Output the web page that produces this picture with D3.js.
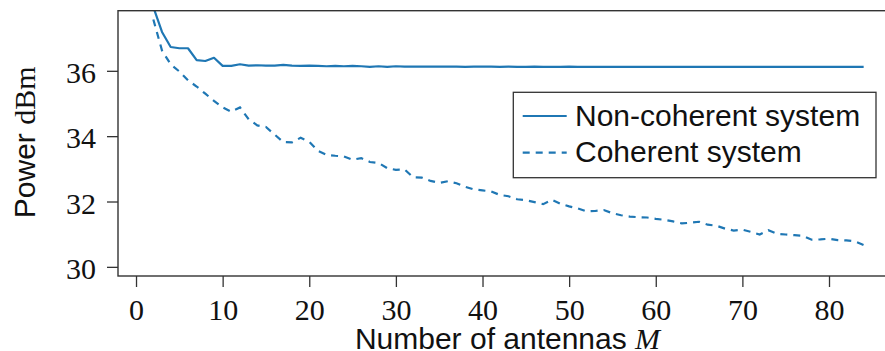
<!DOCTYPE html>
<html><head><meta charset="utf-8">
<script src="https://cdn.jsdelivr.net/npm/d3@7"></script>
<style>body{margin:0;background:#fff}svg{display:block}</style>
</head><body><svg id="c" width="885" height="351"></svg>
<script>
const antennas = d3.range(2, 85);
const nonCoherent = [37.95,37.19,36.73,36.69,36.69,36.33,36.30,36.40,36.15,36.15,36.20,36.16,36.17,36.16,36.16,36.18,36.16,36.15,36.16,36.15,36.14,36.15,36.14,36.15,36.14,36.12,36.14,36.12,36.14,36.13,36.13,36.13,36.13,36.13,36.13,36.13,36.12,36.13,36.13,36.13,36.12,36.13,36.12,36.12,36.13,36.12,36.12,36.12,36.13,36.12,36.12,36.12,36.12,36.12,36.12,36.12,36.12,36.12,36.12,36.12,36.12,36.12,36.12,36.12,36.12,36.12,36.12,36.12,36.12,36.12,36.12,36.12,36.12,36.12,36.12,36.12,36.12,36.12,36.12,36.12,36.12,36.12,36.12];
const coherent = [37.57,36.62,36.20,35.98,35.71,35.52,35.30,35.08,34.88,34.75,34.88,34.52,34.33,34.28,34.05,33.82,33.81,33.95,33.83,33.55,33.43,33.40,33.38,33.28,33.33,33.21,33.18,33.02,32.97,32.98,32.74,32.73,32.63,32.57,32.62,32.56,32.45,32.37,32.34,32.31,32.20,32.16,32.07,32.04,31.98,31.92,32.05,31.93,31.85,31.79,31.70,31.71,31.74,31.64,31.58,31.54,31.52,31.51,31.47,31.44,31.39,31.33,31.35,31.38,31.29,31.26,31.17,31.11,31.14,31.07,30.99,31.12,31.01,30.99,30.97,30.95,30.83,30.84,30.86,30.82,30.81,30.78,30.67];
const xTicks = [0,10,20,30,40,50,60,70,80];
const yTicks = [30,32,34,36];
const seriesNames = ["Non-coherent system","Coherent system"];

const svg = d3.select("#c");
const L=118, R=899, T=10.7, B=276;
const x = d3.scaleLinear().domain([-2.08, 88.08]).range([L, R]);
const y = d3.scaleLinear().domain([29.72, 37.84]).range([B, T]);
const color = "#1f77b4", axc = "#333";

svg.append("clipPath").attr("id","clip").append("rect").attr("x",L).attr("y",T).attr("width",R-L).attr("height",B-T);

const line = d3.line().x((d,i)=>x(antennas[i])).y(d=>y(d));
const g = svg.append("g").attr("clip-path","url(#clip)");
g.append("path").datum(nonCoherent).attr("d",line).attr("fill","none").attr("stroke",color).attr("stroke-width",2.2).attr("stroke-linejoin","round");
g.append("path").datum(coherent).attr("d",line).attr("fill","none").attr("stroke",color).attr("stroke-width",2.2).attr("stroke-dasharray","7,6");

// spines
svg.append("rect").attr("x",L).attr("y",T).attr("width",R-L).attr("height",B-T).attr("fill","none").attr("stroke",axc).attr("stroke-width",1.4);

// x axis
const xa = svg.append("g").attr("transform",`translate(0,${B})`).call(d3.axisBottom(x).tickValues(xTicks).tickSize(11).tickSizeOuter(0).tickFormat(d3.format("d")));
xa.select(".domain").remove();
xa.selectAll("line").attr("stroke",axc).attr("stroke-width",1.3);
xa.selectAll("text").attr("font-family","'Liberation Serif', serif").attr("font-size",30).attr("fill","#111").attr("dy",null).attr("y",44);

// y axis
const ya = svg.append("g").attr("transform",`translate(${L},0)`).call(d3.axisLeft(y).tickValues(yTicks).tickSize(11).tickSizeOuter(0).tickFormat(d3.format("d")));
ya.select(".domain").remove();
ya.selectAll("line").attr("stroke",axc).attr("stroke-width",1.3);
ya.selectAll("text").attr("font-family","'Liberation Serif', serif").attr("font-size",30).attr("fill","#111").attr("dy",null).attr("y",11.5).attr("x",-22);

// axis labels
const xl = svg.append("text").attr("x",(L+R)/2 - 1).attr("y",349).attr("text-anchor","middle").attr("font-size",30).attr("fill","#111");
xl.append("tspan").attr("font-family","'Liberation Sans', Arial, sans-serif").text("Number of antennas ");
xl.append("tspan").attr("font-family","'Liberation Serif', serif").attr("font-style","italic").text("M");

const yl = svg.append("text").attr("transform",`translate(35,${(T+B)/2 - 1}) rotate(-90)`).attr("text-anchor","middle").attr("font-size",30).attr("fill","#111");
yl.append("tspan").attr("font-family","'Liberation Sans', Arial, sans-serif").text("Power ");
yl.append("tspan").attr("font-family","'Liberation Serif', serif").text("dBm");

// legend
const lg = svg.append("g");
lg.append("rect").attr("x",513.3).attr("y",92.3).attr("width",362.7).attr("height",85.4).attr("fill","#fff").attr("stroke",axc).attr("stroke-width",1.3);
const rows = [{name:seriesNames[0],dash:null,ly:116,ty:125.5},{name:seriesNames[1],dash:"7,6",ly:152.7,ty:161.7}];
rows.forEach(r=>{
  lg.append("line").attr("x1",522.7).attr("x2",566.7).attr("y1",r.ly).attr("y2",r.ly).attr("stroke",color).attr("stroke-width",2.2).attr("stroke-dasharray",r.dash);
  lg.append("text").attr("x",575).attr("y",r.ty).attr("font-family","'Liberation Sans', Arial, sans-serif").attr("font-size",30).attr("fill","#111").text(r.name);
});
</script></body></html>
